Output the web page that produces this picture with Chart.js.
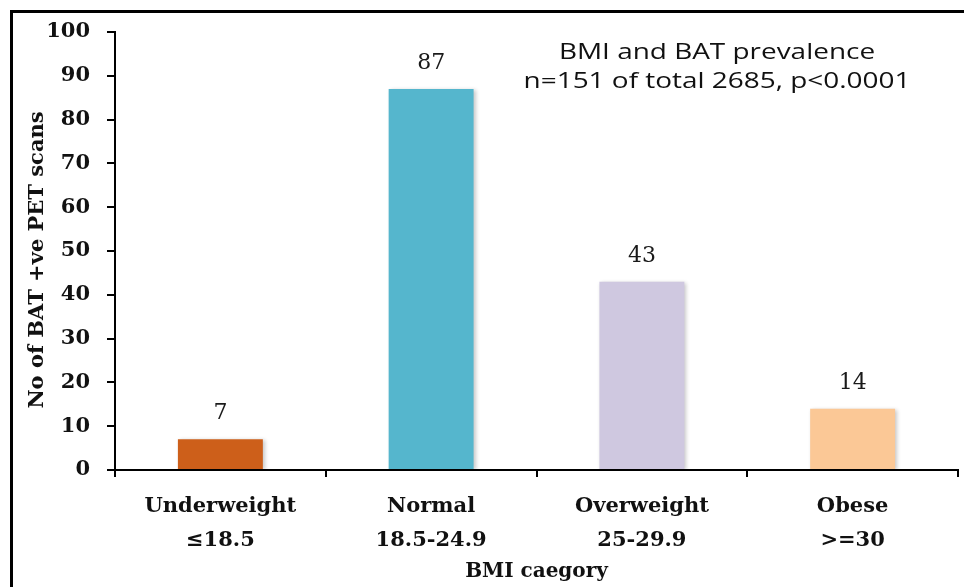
<!DOCTYPE html>
<html>
<head>
<meta charset="utf-8">
<script src="https://cdn.jsdelivr.net/npm/chart.js@4.4.1/dist/chart.umd.min.js"></script>
<style>
  html, body { margin: 0; padding: 0; background: #ffffff; }
  #wrap { width: 964px; height: 587px; position: relative; }
</style>
</head>
<body>
<div id="wrap"><canvas id="c" width="964" height="587"></canvas></div>
<script>
// BMI categories (two-line labels) and count of BAT-positive PET scans in each
const categories = [
  ['Underweight', '\u226418.5'],
  ['Normal', '18.5-24.9'],
  ['Overweight', '25-29.9'],
  ['Obese', '>=30']
];
const batPositive = [7, 87, 43, 14];
const barColors = ['#CD5F1A', '#55B6CD', '#CFC8E0', '#FBC896'];
const yTicks = [0, 10, 20, 30, 40, 50, 60, 70, 80, 90, 100];
const yTitle = 'No of BAT +ve PET scans';
const xTitle = 'BMI caegory';
const noteLines = ['BMI and BAT prevalence', 'n=151 of total 2685, p<0.0001'];

const serifBold = { family: '"DejaVu Serif", serif', size: 21, weight: 'bold' };

// frame around the figure, y-axis title, value labels above bars, summary note
const decorations = {
  id: 'decorations',
  beforeDraw(chart) {
    const ctx = chart.ctx;
    ctx.save();
    ctx.fillStyle = '#ffffff';
    ctx.fillRect(0, 0, chart.width, chart.height);
    ctx.strokeStyle = '#000000';
    ctx.lineWidth = 3;
    ctx.strokeRect(11.5, 11.5, chart.width + 20, chart.height + 20);
    ctx.restore();
  },
  beforeDatasetDraw(chart) {
    const ctx = chart.ctx;
    ctx.save();
    ctx.shadowColor = 'rgba(0,0,0,0.22)';
    ctx.shadowBlur = 4;
    ctx.shadowOffsetX = 2;
    ctx.shadowOffsetY = 1;
  },
  afterDatasetDraw(chart) {
    chart.ctx.restore();
  },
  afterDraw(chart) {
    const ctx = chart.ctx;
    const meta = chart.getDatasetMeta(0);
    ctx.save();
    ctx.fillStyle = '#1a1a1a';
    ctx.font = '22px "DejaVu Serif", serif';
    ctx.textAlign = 'center';
    ctx.textBaseline = 'alphabetic';
    meta.data.forEach((bar, i) => {
      ctx.fillText(String(batPositive[i]), bar.x, bar.y - 20);
    });

    // rotated y-axis title
    ctx.save();
    ctx.translate(38, 260);
    ctx.rotate(-Math.PI / 2);
    ctx.font = 'bold 21px "DejaVu Serif", serif';
    ctx.fillStyle = '#111111';
    ctx.textBaseline = 'middle';
    ctx.fillText(yTitle, 0, 0);
    ctx.restore();

    // summary note, set slightly wide
    ctx.font = '21px "Open Sans", sans-serif';
    ctx.fillStyle = '#111111';
    ctx.save();
    ctx.translate(717, 0);
    ctx.scale(1.33, 1);
    ctx.fillText(noteLines[0], 0, 59);
    ctx.fillText(noteLines[1], 0, 88);
    ctx.restore();
    ctx.restore();
  }
};

new Chart(document.getElementById('c'), {
  type: 'bar',
  data: {
    labels: categories,
    datasets: [{
      data: batPositive,
      backgroundColor: barColors,
      borderWidth: 0,
      categoryPercentage: 1.0,
      barPercentage: 0.403
    }]
  },
  options: {
    responsive: false,
    animation: false,
    devicePixelRatio: 1,
    layout: { padding: { top: 32, right: 6, left: 0, bottom: 0 } },
    plugins: {
      legend: { display: false },
      tooltip: { enabled: false }
    },
    scales: {
      x: {
        afterFit(scale) { scale.height = 117; },
        border: { display: true, color: '#000000', width: 2 },
        grid: {
          display: true,
          drawOnChartArea: false,
          drawTicks: true,
          tickLength: 7,
          color: '#000000',
          lineWidth: 2,
          offset: true
        },
        ticks: {
          color: '#111111',
          padding: 13,
          maxRotation: 0,
          font: { family: '"DejaVu Serif", serif', size: 21, weight: 'bold', lineHeight: 1.62 }
        },
        title: {
          display: true,
          text: xTitle,
          color: '#111111',
          padding: { top: 0, bottom: 3 },
          font: { family: '"DejaVu Serif", serif', size: 20, weight: 'bold' }
        }
      },
      y: {
        min: 0,
        max: 100,
        afterFit(scale) { scale.width = 115; },
        afterBuildTicks(scale) { scale.ticks = yTicks.map(v => ({ value: v })); },
        border: { display: true, color: '#000000', width: 2 },
        grid: {
          display: true,
          drawOnChartArea: false,
          drawTicks: true,
          tickLength: 8,
          color: '#000000',
          lineWidth: 2
        },
        ticks: {
          color: '#111111',
          padding: 17,
          font: serifBold
        },
        title: { display: false }
      }
    }
  },
  plugins: [decorations]
});
</script>
</body>
</html>
